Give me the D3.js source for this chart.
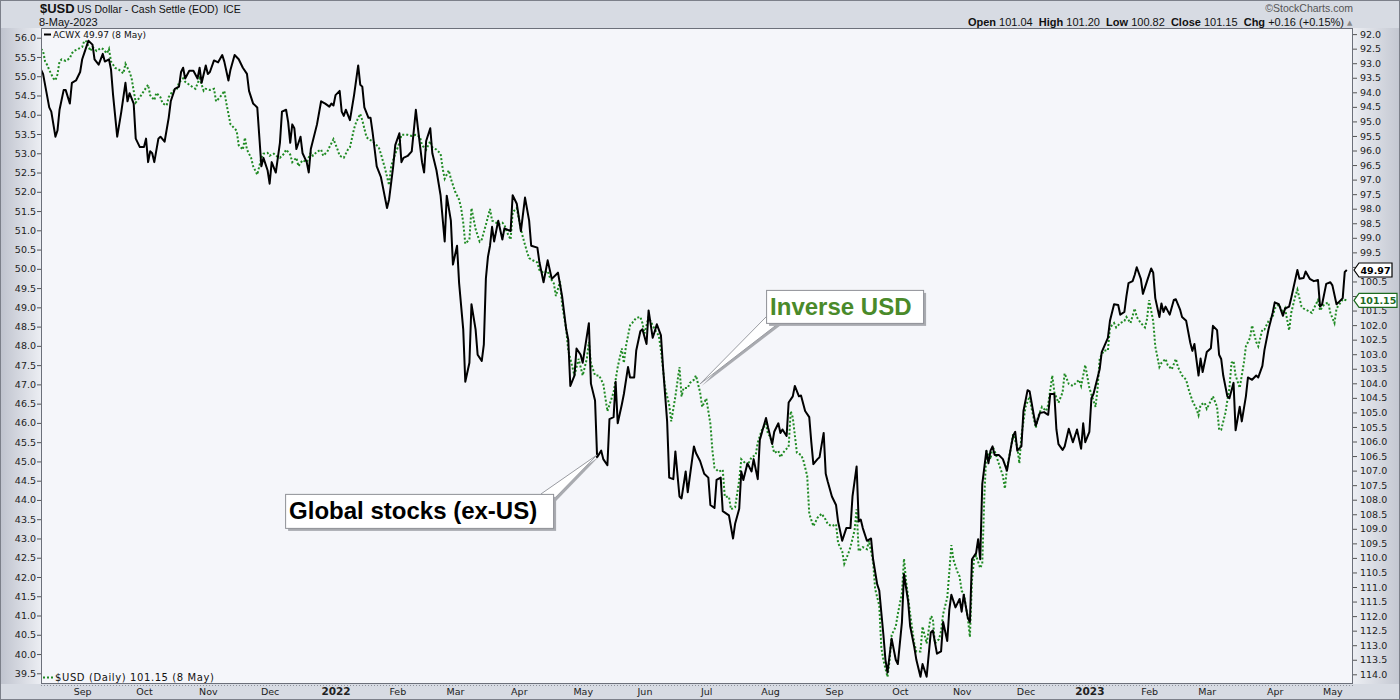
<!DOCTYPE html>
<html><head><meta charset="utf-8">
<script src="https://cdn.jsdelivr.net/npm/d3@7"></script>
<style>html,body{margin:0;padding:0;background:#fff;}svg{display:block;}</style>
</head><body>
<svg id="chart" width="1400" height="700"></svg>
<script>
// ---------------- DATA ----------------
const dateDomain = ["2021-08-12", "2023-05-11"];
const acwxSeries = [
["2021-08-12",55.17],["2021-08-13",55.06],["2021-08-16",54.19],["2021-08-17",54.08],["2021-08-19",53.43],["2021-08-20",53.59],["2021-08-21",54.13],["2021-08-23",54.64],["2021-08-24",54.64],["2021-08-26",54.29],["2021-08-27",54.83],["2021-08-29",54.89],["2021-08-31",55.11],
["2021-09-01",55.44],["2021-09-02",55.60],["2021-09-04",55.92],["2021-09-06",55.82],["2021-09-07",55.44],["2021-09-09",55.30],["2021-09-11",55.58],["2021-09-12",55.38],["2021-09-14",55.44],["2021-09-15",55.17],["2021-09-16",54.51],["2021-09-18",53.43],["2021-09-20",54.08],["2021-09-22",54.83],["2021-09-23",54.35],["2021-09-24",54.56],["2021-09-26",54.29],["2021-09-27",53.38],["2021-09-29",53.16],
["2021-10-01",53.16],["2021-10-02",53.38],["2021-10-03",52.77],["2021-10-04",53.05],["2021-10-05",53.00],["2021-10-06",52.77],["2021-10-08",53.38],["2021-10-09",53.43],["2021-10-11",53.30],["2021-10-13",53.92],["2021-10-14",54.35],["2021-10-16",54.67],["2021-10-18",54.73],["2021-10-19",55.11],["2021-10-20",55.22],["2021-10-21",54.94],["2021-10-23",55.14],["2021-10-25",55.14],["2021-10-27",54.94],["2021-10-28",55.22],["2021-10-29",54.83],["2021-10-31",55.28],
["2021-11-01",55.06],["2021-11-02",55.11],["2021-11-04",55.41],["2021-11-06",55.36],["2021-11-08",55.55],["2021-11-09",55.38],["2021-11-11",54.89],["2021-11-12",55.17],["2021-11-14",55.55],["2021-11-16",55.44],["2021-11-18",55.22],["2021-11-20",55.06],["2021-11-21",54.62],["2021-11-23",54.29],["2021-11-25",54.19],["2021-11-26",53.43],["2021-11-27",52.66],["2021-11-28",52.88],["2021-11-30",52.56],
["2021-12-01",52.21],["2021-12-02",52.77],["2021-12-04",52.50],["2021-12-06",53.27],["2021-12-07",54.08],["2021-12-09",54.13],["2021-12-10",53.81],["2021-12-11",53.27],["2021-12-12",53.75],["2021-12-13",53.65],["2021-12-14",53.11],["2021-12-16",53.43],["2021-12-17",53.00],["2021-12-19",52.77],["2021-12-20",52.50],["2021-12-21",53.11],["2021-12-24",53.75],["2021-12-26",54.35],["2021-12-28",54.29],["2021-12-30",54.21],["2021-12-31",54.29],
["2022-01-01",54.24],["2022-01-02",54.51],["2022-01-04",54.62],["2022-01-05",54.08],["2022-01-06",53.97],["2022-01-07",54.13],["2022-01-09",53.86],["2022-01-11",54.51],["2022-01-13",55.28],["2022-01-14",54.78],["2022-01-15",54.73],["2022-01-16",54.19],["2022-01-18",53.92],["2022-01-19",53.92],["2022-01-20",53.54],["2022-01-22",52.66],["2022-01-24",52.39],["2022-01-25",52.12],["2022-01-27",51.58],["2022-01-28",51.80],["2022-01-30",52.66],["2022-01-31",53.21],
["2022-02-02",53.52],["2022-02-03",52.77],["2022-02-04",52.88],["2022-02-06",52.93],["2022-02-08",53.05],["2022-02-10",54.13],["2022-02-11",53.65],["2022-02-13",52.77],["2022-02-14",52.50],["2022-02-15",53.32],["2022-02-17",53.65],["2022-02-18",53.00],["2022-02-20",52.56],["2022-02-22",51.91],["2022-02-24",50.71],["2022-02-25",51.90],["2022-02-27",51.25],["2022-02-28",50.11],
["2022-03-02",50.60],["2022-03-03",49.63],["2022-03-05",48.43],["2022-03-06",47.07],["2022-03-08",47.56],["2022-03-09",49.08],["2022-03-11",48.43],["2022-03-12",47.77],["2022-03-14",47.61],["2022-03-15",48.03],["2022-03-16",49.75],["2022-03-17",50.31],["2022-03-18",50.60],["2022-03-19",51.09],["2022-03-20",50.71],["2022-03-22",51.25],["2022-03-24",50.76],["2022-03-25",51.05],["2022-03-28",50.98],["2022-03-29",51.91],["2022-03-31",51.69],
["2022-04-02",50.98],["2022-04-04",51.85],["2022-04-06",51.25],["2022-04-07",50.60],["2022-04-10",50.55],["2022-04-11",50.17],["2022-04-13",49.65],["2022-04-15",50.22],["2022-04-17",49.74],["2022-04-20",49.90],["2022-04-22",49.29],["2022-04-24",48.43],["2022-04-25",48.16],["2022-04-26",46.96],["2022-04-28",47.23],["2022-04-29",47.93],
["2022-05-01",47.77],["2022-05-02",47.56],["2022-05-05",48.59],["2022-05-06",47.02],["2022-05-08",46.58],["2022-05-09",45.11],["2022-05-11",45.28],["2022-05-12",45.06],["2022-05-14",44.90],["2022-05-15",46.10],["2022-05-17",46.15],["2022-05-18",47.07],["2022-05-19",45.99],["2022-05-21",46.48],["2022-05-22",46.75],["2022-05-24",47.45],["2022-05-25",47.18],["2022-05-27",47.18],["2022-05-28",47.88],["2022-05-30",48.38],["2022-05-31",48.43],
["2022-06-02",48.05],["2022-06-03",48.92],["2022-06-05",48.21],["2022-06-06",48.38],["2022-06-07",48.56],["2022-06-09",48.27],["2022-06-10",47.45],["2022-06-12",46.04],["2022-06-13",44.58],["2022-06-15",44.54],["2022-06-16",45.26],["2022-06-18",44.09],["2022-06-19",44.04],["2022-06-21",44.74],["2022-06-22",44.20],["2022-06-25",45.39],["2022-06-26",45.22],["2022-06-28",45.01],["2022-06-30",44.68],
["2022-07-02",44.58],["2022-07-03",43.87],["2022-07-05",43.79],["2022-07-06",44.52],["2022-07-08",44.58],["2022-07-09",43.71],["2022-07-12",43.60],["2022-07-14",43.00],["2022-07-15",43.38],["2022-07-17",43.77],["2022-07-18",44.74],["2022-07-19",44.52],["2022-07-21",44.95],["2022-07-23",44.74],["2022-07-24",45.06],["2022-07-26",44.54],["2022-07-27",45.56],["2022-07-30",46.13],["2022-07-31",45.88],
["2022-08-02",45.45],["2022-08-03",45.77],["2022-08-05",45.99],["2022-08-06",45.74],["2022-08-07",45.83],["2022-08-09",45.66],["2022-08-10",46.53],["2022-08-12",46.69],["2022-08-13",46.96],["2022-08-15",46.69],["2022-08-16",46.71],["2022-08-18",46.31],["2022-08-20",46.15],["2022-08-21",45.50],["2022-08-22",44.93],["2022-08-24",45.06],["2022-08-25",45.11],["2022-08-27",45.74],["2022-08-28",44.68],["2022-08-29",44.47],["2022-08-31",44.09],
["2022-09-02",43.87],["2022-09-03",43.44],["2022-09-05",42.94],["2022-09-07",43.27],["2022-09-09",43.27],["2022-09-10",44.09],["2022-09-12",44.87],["2022-09-13",43.44],["2022-09-14",43.49],["2022-09-15",43.27],["2022-09-17",42.94],["2022-09-19",43.00],["2022-09-20",42.46],["2022-09-22",41.81],["2022-09-23",41.65],["2022-09-25",40.50],["2022-09-26",39.85],["2022-09-27",39.52],["2022-09-29",40.40],
["2022-10-01",39.85],["2022-10-02",39.74],["2022-10-04",40.83],["2022-10-05",42.08],["2022-10-07",41.37],["2022-10-08",40.72],["2022-10-10",40.18],["2022-10-11",39.85],["2022-10-13",39.41],["2022-10-14",39.74],["2022-10-16",39.41],["2022-10-18",40.56],["2022-10-19",40.61],["2022-10-21",40.01],["2022-10-23",40.07],["2022-10-24",40.83],["2022-10-26",40.34],["2022-10-27",41.15],["2022-10-28",41.54],["2022-10-30",41.21],
["2022-11-01",41.43],["2022-11-02",41.10],["2022-11-03",41.54],["2022-11-05",40.94],["2022-11-06",40.83],["2022-11-07",42.46],["2022-11-09",42.62],["2022-11-10",42.98],["2022-11-11",42.46],["2022-11-12",44.41],["2022-11-14",45.28],["2022-11-15",44.95],["2022-11-16",45.28],["2022-11-17",45.39],["2022-11-18",45.17],["2022-11-20",45.17],["2022-11-22",45.06],["2022-11-24",44.76],["2022-11-26",45.39],["2022-11-27",45.67],["2022-11-28",45.77],["2022-11-29",45.28],
["2022-12-01",45.39],["2022-12-02",46.31],["2022-12-04",46.85],["2022-12-05",46.82],["2022-12-07",46.21],["2022-12-08",45.93],["2022-12-10",46.26],["2022-12-12",46.28],["2022-12-14",46.21],["2022-12-15",46.75],["2022-12-17",46.75],["2022-12-18",45.83],["2022-12-19",45.45],["2022-12-21",45.30],["2022-12-22",45.39],["2022-12-24",45.85],["2022-12-26",45.50],["2022-12-27",45.66],["2022-12-28",45.83],["2022-12-30",45.33],["2022-12-31",45.99],
["2023-01-01",45.50],["2023-01-03",45.77],["2023-01-04",46.64],["2023-01-05",46.75],["2023-01-08",47.39],["2023-01-09",47.84],["2023-01-12",48.21],["2023-01-13",48.65],["2023-01-15",49.08],["2023-01-17",49.06],["2023-01-18",48.81],["2023-01-20",48.88],["2023-01-21",49.29],["2023-01-22",49.63],["2023-01-24",49.68],["2023-01-25",49.84],["2023-01-26",50.04],["2023-01-28",49.74],["2023-01-29",49.35],["2023-01-31",49.68],
["2023-02-02",50.01],["2023-02-03",49.90],["2023-02-04",49.24],["2023-02-06",48.75],["2023-02-07",49.10],["2023-02-08",48.88],["2023-02-09",49.02],["2023-02-11",48.81],["2023-02-13",49.19],["2023-02-14",49.21],["2023-02-16",48.95],["2023-02-17",48.75],["2023-02-19",48.65],["2023-02-21",48.08],["2023-02-22",47.87],["2023-02-23",48.05],["2023-02-25",47.23],["2023-02-26",47.67],["2023-02-27",47.32],
["2023-03-01",47.84],["2023-03-03",47.94],["2023-03-04",48.52],["2023-03-06",48.41],["2023-03-07",47.77],["2023-03-08",47.66],["2023-03-09",47.23],["2023-03-11",46.69],["2023-03-12",46.64],["2023-03-14",47.04],["2023-03-15",45.81],["2023-03-17",46.42],["2023-03-18",46.04],["2023-03-20",46.69],["2023-03-21",47.18],["2023-03-23",47.12],["2023-03-25",47.23],["2023-03-26",47.18],["2023-03-28",47.48],["2023-03-29",47.89],["2023-03-31",48.43],
["2023-04-02",48.86],["2023-04-03",49.13],["2023-04-05",49.08],["2023-04-07",48.78],["2023-04-08",48.97],["2023-04-10",49.02],["2023-04-11",49.24],["2023-04-14",49.97],["2023-04-15",49.74],["2023-04-17",49.76],["2023-04-18",49.93],["2023-04-20",49.74],["2023-04-22",49.68],["2023-04-24",49.71],["2023-04-25",49.02],["2023-04-26",49.08],["2023-04-28",49.61],["2023-04-30",49.65],
["2023-05-01",49.57],["2023-05-03",49.08],["2023-05-04",49.13],["2023-05-06",49.24],["2023-05-07",49.92],["2023-05-08",49.97]
];
const usdSeries = [
["2021-08-12",92.51],["2021-08-13",92.58],["2021-08-14",92.94],["2021-08-15",93.06],["2021-08-16",93.23],["2021-08-18",93.52],["2021-08-19",93.59],["2021-08-20",93.38],["2021-08-21",92.94],["2021-08-22",92.87],["2021-08-24",92.92],["2021-08-26",92.83],["2021-08-27",92.66],["2021-08-28",92.58],["2021-08-30",92.51],
["2021-09-01",92.44],["2021-09-02",92.23],["2021-09-03",92.25],["2021-09-05",92.58],["2021-09-06",92.44],["2021-09-08",92.58],["2021-09-10",92.48],["2021-09-11",92.51],["2021-09-13",92.66],["2021-09-14",92.51],["2021-09-15",92.94],["2021-09-17",93.16],["2021-09-19",93.23],["2021-09-21",93.35],["2021-09-22",93.02],["2021-09-24",93.30],["2021-09-25",93.52],["2021-09-26",93.95],["2021-09-27",94.35],["2021-09-29",94.17],
["2021-10-01",93.95],["2021-10-03",93.74],["2021-10-04",94.10],["2021-10-06",94.27],["2021-10-07",94.02],["2021-10-09",94.17],["2021-10-10",94.38],["2021-10-12",94.45],["2021-10-13",94.17],["2021-10-15",93.95],["2021-10-17",93.88],["2021-10-18",93.66],["2021-10-20",93.52],["2021-10-21",93.64],["2021-10-23",93.74],["2021-10-25",93.84],["2021-10-26",93.88],["2021-10-28",93.52],["2021-10-30",93.95],["2021-10-31",93.88],
["2021-11-02",93.92],["2021-11-04",93.88],["2021-11-05",94.31],["2021-11-06",94.24],["2021-11-08",94.07],["2021-11-09",93.95],["2021-11-10",94.38],["2021-11-12",95.10],["2021-11-13",95.17],["2021-11-15",95.32],["2021-11-16",95.82],["2021-11-18",95.97],["2021-11-19",95.56],["2021-11-20",95.97],["2021-11-22",96.25],["2021-11-23",96.54],["2021-11-25",96.83],["2021-11-27",96.25],["2021-11-28",96.11],["2021-11-30",96.08],
["2021-12-01",96.18],["2021-12-03",96.11],["2021-12-04",96.18],["2021-12-06",96.25],["2021-12-08",96.11],["2021-12-09",95.97],["2021-12-11",96.14],["2021-12-12",96.40],["2021-12-14",96.25],["2021-12-15",96.54],["2021-12-17",96.33],["2021-12-19",96.40],["2021-12-21",96.08],["2021-12-22",96.18],["2021-12-24",96.04],["2021-12-26",95.97],["2021-12-27",96.18],["2021-12-29",96.04],["2021-12-30",95.89],
["2022-01-01",95.61],["2022-01-03",95.97],["2022-01-04",96.18],["2022-01-06",96.25],["2022-01-08",95.97],["2022-01-09",95.89],["2022-01-11",95.25],["2022-01-12",95.03],["2022-01-14",94.74],["2022-01-15",94.96],["2022-01-17",95.53],["2022-01-18",95.61],["2022-01-20",95.68],["2022-01-21",95.75],["2022-01-23",95.89],["2022-01-24",96.11],["2022-01-26",96.61],["2022-01-28",97.19],["2022-01-29",96.54],["2022-01-31",96.11],
["2022-02-02",95.75],["2022-02-03",95.46],["2022-02-05",95.46],["2022-02-06",95.46],["2022-02-08",95.50],["2022-02-10",95.46],["2022-02-12",95.53],["2022-02-13",95.82],["2022-02-15",95.97],["2022-02-17",95.68],["2022-02-18",95.89],["2022-02-20",95.97],["2022-02-22",96.11],["2022-02-23",96.61],["2022-02-24",96.97],["2022-02-26",96.68],["2022-02-27",96.97],
["2022-03-01",97.40],["2022-03-03",97.69],["2022-03-04",97.98],["2022-03-05",98.48],["2022-03-06",99.20],["2022-03-08",99.06],["2022-03-09",97.98],["2022-03-11",98.70],["2022-03-13",99.13],["2022-03-14",99.06],["2022-03-16",98.55],["2022-03-18",98.01],["2022-03-19",98.41],["2022-03-21",98.48],["2022-03-22",98.55],["2022-03-24",98.48],["2022-03-25",98.55],["2022-03-26",98.77],["2022-03-28",99.06],["2022-03-29",98.12],["2022-03-31",97.98],
["2022-04-01",98.34],["2022-04-02",98.70],["2022-04-03",98.99],["2022-04-05",99.49],["2022-04-06",99.70],["2022-04-08",99.78],["2022-04-10",99.85],["2022-04-11",100.11],["2022-04-13",100.21],["2022-04-15",100.14],["2022-04-16",100.35],["2022-04-18",100.57],["2022-04-19",101.00],["2022-04-21",100.50],["2022-04-22",101.29],["2022-04-24",102.15],["2022-04-25",102.87],["2022-04-27",103.44],["2022-04-28",103.73],["2022-04-30",103.16],
["2022-05-01",103.44],["2022-05-02",103.73],["2022-05-04",103.16],["2022-05-05",102.58],["2022-05-06",103.30],["2022-05-08",103.73],["2022-05-10",103.73],["2022-05-11",103.88],["2022-05-12",104.02],["2022-05-14",104.96],["2022-05-15",104.74],["2022-05-17",104.31],["2022-05-18",103.88],["2022-05-19",103.44],["2022-05-21",102.80],["2022-05-22",103.30],["2022-05-23",102.73],["2022-05-25",102.01],["2022-05-26",101.93],["2022-05-28",101.75],["2022-05-30",101.72],["2022-05-31",101.93],
["2022-06-01",102.29],["2022-06-03",101.72],["2022-06-05",102.01],["2022-06-06",102.15],["2022-06-08",102.37],["2022-06-09",102.87],["2022-06-11",104.16],["2022-06-13",104.74],["2022-06-14",105.31],["2022-06-16",104.45],["2022-06-18",103.44],["2022-06-19",104.45],["2022-06-20",104.16],["2022-06-22",104.16],["2022-06-23",103.99],["2022-06-25",103.88],["2022-06-26",103.73],["2022-06-28",104.31],["2022-06-29",104.81],
["2022-07-01",104.52],["2022-07-03",105.39],["2022-07-04",106.32],["2022-07-05",106.90],["2022-07-07",107.04],["2022-07-09",106.97],["2022-07-10",107.90],["2022-07-12",107.90],["2022-07-13",108.33],["2022-07-15",108.26],["2022-07-17",107.33],["2022-07-18",106.61],["2022-07-20",106.75],["2022-07-21",106.82],["2022-07-23",106.54],["2022-07-25",106.46],["2022-07-26",106.03],["2022-07-28",105.60],["2022-07-30",105.39],["2022-07-31",105.75],
["2022-08-01",105.82],["2022-08-03",106.39],["2022-08-05",106.32],["2022-08-06",106.54],["2022-08-08",106.32],["2022-08-10",106.18],["2022-08-11",104.96],["2022-08-12",105.17],["2022-08-14",106.39],["2022-08-16",106.46],["2022-08-17",106.61],["2022-08-19",107.18],["2022-08-20",108.48],["2022-08-22",108.91],["2022-08-23",108.77],["2022-08-24",108.62],["2022-08-26",108.48],["2022-08-28",108.69],["2022-08-29",108.84],["2022-08-31",108.91],
["2022-09-02",108.84],["2022-09-03",109.49],["2022-09-05",109.77],["2022-09-06",110.20],["2022-09-08",109.84],["2022-09-09",109.63],["2022-09-11",109.05],["2022-09-12",108.33],["2022-09-13",109.77],["2022-09-15",109.63],["2022-09-17",109.70],["2022-09-18",109.41],["2022-09-20",110.13],["2022-09-21",111.07],["2022-09-23",111.64],["2022-09-24",113.08],["2022-09-25",113.51],["2022-09-27",114.09],["2022-09-28",113.51],["2022-09-29",112.65],
["2022-10-01",112.36],["2022-10-02",111.93],["2022-10-04",111.21],["2022-10-05",110.03],["2022-10-06",110.78],["2022-10-08",111.93],["2022-10-10",112.94],["2022-10-11",113.22],["2022-10-13",113.22],["2022-10-14",112.36],["2022-10-16",112.94],["2022-10-18",112.00],["2022-10-19",112.07],["2022-10-20",112.94],["2022-10-22",112.79],["2022-10-23",112.51],["2022-10-24",111.93],["2022-10-26",111.36],["2022-10-27",110.49],["2022-10-28",109.56],["2022-10-29",110.06],["2022-10-31",110.49],
["2022-11-01",110.64],["2022-11-02",111.14],["2022-11-03",111.21],["2022-11-05",112.07],["2022-11-06",112.72],["2022-11-07",110.78],["2022-11-08",110.06],["2022-11-09",109.92],["2022-11-11",110.35],["2022-11-12",110.20],["2022-11-13",107.90],["2022-11-14",106.32],["2022-11-16",106.61],["2022-11-17",106.18],["2022-11-18",106.32],["2022-11-20",106.75],["2022-11-22",107.18],["2022-11-23",107.62],["2022-11-24",106.90],["2022-11-26",106.18],["2022-11-27",105.75],["2022-11-29",106.18],["2022-11-30",106.75],
["2022-12-01",105.82],["2022-12-03",104.81],["2022-12-05",104.45],["2022-12-06",104.88],["2022-12-08",105.53],["2022-12-09",105.17],["2022-12-11",104.81],["2022-12-13",104.95],["2022-12-14",104.74],["2022-12-16",103.73],["2022-12-17",104.31],["2022-12-19",104.67],["2022-12-21",104.31],["2022-12-22",103.66],["2022-12-24",104.02],["2022-12-26",104.09],["2022-12-27",104.02],["2022-12-29",103.88],["2022-12-30",104.09],
["2023-01-01",103.37],["2023-01-03",104.16],["2023-01-04",104.38],["2023-01-06",104.81],["2023-01-07",104.16],["2023-01-08",103.16],["2023-01-10",102.87],["2023-01-12",102.87],["2023-01-13",102.08],["2023-01-15",101.93],["2023-01-16",102.08],["2023-01-18",101.93],["2023-01-20",101.86],["2023-01-21",101.72],["2023-01-23",101.93],["2023-01-25",101.43],["2023-01-26",101.72],["2023-01-28",101.93],["2023-01-30",102.08],["2023-01-31",101.79],
["2023-02-01",101.14],["2023-02-03",101.86],["2023-02-04",102.73],["2023-02-06",103.44],["2023-02-07",103.30],["2023-02-09",103.16],["2023-02-10",103.37],["2023-02-12",103.52],["2023-02-14",103.16],["2023-02-15",103.44],["2023-02-17",103.73],["2023-02-19",103.88],["2023-02-20",104.16],["2023-02-22",104.60],["2023-02-24",104.88],["2023-02-25",105.10],["2023-02-26",104.74],["2023-02-28",104.67],
["2023-03-01",104.88],["2023-03-03",104.60],["2023-03-04",104.45],["2023-03-06",104.81],["2023-03-07",105.60],["2023-03-08",105.60],["2023-03-10",105.03],["2023-03-12",104.16],["2023-03-13",103.30],["2023-03-14",103.23],["2023-03-15",103.73],["2023-03-17",104.16],["2023-03-19",103.30],["2023-03-20",102.73],["2023-03-22",102.44],["2023-03-23",102.01],["2023-03-25",102.58],["2023-03-26",102.73],["2023-03-28",102.15],["2023-03-29",102.15],["2023-03-31",101.86],
["2023-04-02",101.72],["2023-04-03",101.43],["2023-04-05",101.29],["2023-04-07",101.58],["2023-04-08",101.43],["2023-04-10",102.18],["2023-04-11",101.58],["2023-04-13",101.00],["2023-04-14",100.78],["2023-04-16",101.36],["2023-04-17",101.43],["2023-04-19",101.50],["2023-04-21",101.58],["2023-04-22",101.43],["2023-04-24",101.14],["2023-04-25",101.50],["2023-04-27",101.29],["2023-04-29",101.22],["2023-04-30",101.58],
["2023-05-02",101.93],["2023-05-03",101.43],["2023-05-05",101.22],["2023-05-06",101.11],["2023-05-08",101.15]
];
const monthTickDates = ["2021-09-01","2021-10-01","2021-11-01","2021-12-01","2022-01-02","2022-02-01","2022-03-01","2022-04-01","2022-05-02","2022-06-01","2022-07-01","2022-08-01","2022-09-01","2022-10-03","2022-11-02","2022-12-03","2023-01-03","2023-02-01","2023-03-01","2023-04-03","2023-05-01"];
const monthTickLabels = ["Sep","Oct","Nov","Dec","2022","Feb","Mar","Apr","May","Jun","Jul","Aug","Sep","Oct","Nov","Dec","2023","Feb","Mar","Apr","May"];
const leftTicks = [56.0,55.5,55.0,54.5,54.0,53.5,53.0,52.5,52.0,51.5,51.0,50.5,50.0,49.5,49.0,48.5,48.0,47.5,47.0,46.5,46.0,45.5,45.0,44.5,44.0,43.5,43.0,42.5,42.0,41.5,41.0,40.5,40.0,39.5];
const rightTicks = [92.0,92.5,93.0,93.5,94.0,94.5,95.0,95.5,96.0,96.5,97.0,97.5,98.0,98.5,99.0,99.5,100.0,100.5,101.0,101.5,102.0,102.5,103.0,103.5,104.0,104.5,105.0,105.5,106.0,106.5,107.0,107.5,108.0,108.5,109.0,109.5,110.0,110.5,111.0,111.5,112.0,112.5,113.0,113.5,114.0];
const ohlcLabels = ["Open","High","Low","Close","Chg"];
const ohlcValues = ["101.04","101.20","100.82","101.15","+0.16 (+0.15%)"];
const annotations = [
  {text:"Inverse USD", date:"2022-06-28", value:104.02, axis:"right", color:"#4a8a2a", dx:66, dy:-94, w:157, h:33, base:"bl"},
  {text:"Global stocks (ex-US)", date:"2022-05-09", value:45.17, axis:"left", color:"#000000", dx:-312, dy:39, w:268, h:34, base:"tr"}
];

// ---------------- CHART ----------------
const parse = d3.timeParse("%Y-%m-%d");
const svg = d3.select("#chart");
const P = {l:41, r:1353, t:28, b:684};
const x = d3.scaleTime().domain(dateDomain.map(parse)).range([P.l, P.r]);
const yL = d3.scaleLinear().domain([56.252, 39.222]).range([P.t, P.b]);
const yR = d3.scaleLinear().domain([91.790, 114.333]).range([P.t, P.b]);
const AX = "DejaVu Sans, Verdana, sans-serif";
const AR = "Liberation Sans, Arial, sans-serif";

const defs = svg.append("defs");
const gl = defs.append("linearGradient").attr("id","gLeft").attr("x1","0").attr("x2","1");
gl.append("stop").attr("offset","0").attr("stop-color","#bfc3ce");
gl.append("stop").attr("offset","1").attr("stop-color","#eceef3");
const gr = defs.append("linearGradient").attr("id","gRight").attr("x1","0").attr("x2","1");
gr.append("stop").attr("offset","0").attr("stop-color","#eceef3");
gr.append("stop").attr("offset","1").attr("stop-color","#c3c7d1");
defs.append("clipPath").attr("id","clip").append("rect").attr("x",P.l).attr("y",P.t).attr("width",P.r-P.l).attr("height",P.b-P.t);

svg.append("rect").attr("width",1400).attr("height",700).attr("fill","#d7dbe3");
svg.append("rect").attr("x",0).attr("y",P.t).attr("width",P.l).attr("height",P.b-P.t).attr("fill","url(#gLeft)");
svg.append("rect").attr("x",P.r).attr("y",P.t).attr("width",1400-P.r).attr("height",P.b-P.t).attr("fill","url(#gRight)");
svg.append("rect").attr("x",0.5).attr("y",0.5).attr("width",1399).attr("height",699).attr("fill","none").attr("stroke","#7c808a");
svg.append("rect").attr("x",P.l).attr("y",P.t).attr("width",P.r-P.l).attr("height",P.b-P.t).attr("fill","#f5f6fa");

// header
const hdr = svg.append("g");
hdr.append("text").attr("x",40).attr("y",13).attr("font-family",AR).attr("font-weight","bold").attr("font-size",13).attr("fill","#111").text("$USD");
const title = hdr.append("text").attr("x",77).attr("y",13).attr("font-family",AR).attr("font-size",10.5).attr("fill","#111");
title.append("tspan").text("US Dollar - Cash Settle (EOD)");
title.append("tspan").attr("dx",5).text("ICE");
hdr.append("text").attr("x",39).attr("y",26).attr("font-family",AR).attr("font-size",11).attr("fill","#111").text("8-May-2023");
hdr.append("text").attr("x",1353).attr("y",12).attr("text-anchor","end").attr("font-family",AR).attr("font-size",10.5).attr("fill","#555").text("\u00A9StockCharts.com");
const ohlc = hdr.append("text").attr("x",1344).attr("y",26).attr("text-anchor","end").attr("font-family",AR).attr("font-size",11).attr("fill","#111");
ohlcLabels.forEach((lab,i)=>{
  ohlc.append("tspan").attr("font-weight","bold").text((i?"  ":"")+lab+" ");
  ohlc.append("tspan").text(ohlcValues[i]);
});
ohlc.attr("xml:space","preserve").style("white-space","pre");
hdr.append("text").attr("x",1347).attr("y",25).attr("font-family",AX).attr("font-size",7).attr("fill","#888").text("\u25B2");

// value tag positions (used to keep covered tick labels out)
const lastA = acwxSeries[acwxSeries.length-1], lastU = usdSeries[usdSeries.length-1];
const tagYs = [yL(lastA[1]), yR(lastU[1])];

// axes
const gLeft = svg.append("g").attr("transform",`translate(${P.l},0)`)
  .call(d3.axisLeft(yL).tickValues(leftTicks).tickFormat(d3.format(".1f")).tickSize(4).tickPadding(1));
gLeft.select(".domain").remove();
gLeft.attr("font-family",AX).attr("font-size",9.5);
gLeft.selectAll("line").attr("stroke","#555");
gLeft.selectAll("text").attr("fill","#222");

const gRightAx = svg.append("g").attr("transform",`translate(${P.r},0)`)
  .call(d3.axisRight(yR).tickValues(rightTicks).tickFormat(d3.format(".1f")).tickSize(4).tickPadding(3));
gRightAx.select(".domain").remove();
gRightAx.attr("font-family",AX).attr("font-size",9.5);
gRightAx.selectAll("line").attr("stroke","#555");
gRightAx.selectAll("text").attr("fill","#222");
gRightAx.selectAll(".tick").filter(d=>tagYs.some(t=>Math.abs(yR(d)-t)<9)).select("text").remove();

const gBot = svg.append("g").attr("transform",`translate(0,${P.b})`)
  .call(d3.axisBottom(x).tickValues(monthTickDates.map(parse)).tickFormat((d,i)=>monthTickLabels[i]).tickSize(0).tickPadding(4));
gBot.select(".domain").remove();
gBot.attr("font-family",AX).attr("font-size",9.5);
gBot.selectAll("text").attr("fill","#222").attr("font-weight",(d,i)=>/^\d{4}$/.test(monthTickLabels[i])?"bold":"normal")
  .attr("font-size",(d,i)=>/^\d{4}$/.test(monthTickLabels[i])?10.5:9.5);
svg.append("line").attr("x1",P.l).attr("x2",P.r).attr("y1",P.b+1.5).attr("y2",P.b+1.5)
  .attr("stroke","#8d919b").attr("stroke-width",1).attr("stroke-dasharray","1,2");

// lines
const plotG = svg.append("g").attr("clip-path","url(#clip)");
const lineL = d3.line().x(d=>x(parse(d[0]))).y(d=>yL(d[1]));
const lineR = d3.line().x(d=>x(parse(d[0]))).y(d=>yR(d[1]));
plotG.append("path").datum(usdSeries).attr("d",lineR).attr("fill","none")
  .attr("stroke","#1f8a23").attr("stroke-width",2).attr("stroke-dasharray","2,2");
plotG.append("path").datum(acwxSeries).attr("d",lineL).attr("fill","none")
  .attr("stroke","#000").attr("stroke-width",2).attr("stroke-linejoin","round");

// plot border
svg.append("rect").attr("x",P.l+0.5).attr("y",P.t+0.5).attr("width",P.r-P.l-1).attr("height",P.b-P.t-1)
  .attr("fill","none").attr("stroke","#6c707a");

// legends
svg.append("line").attr("x1",44).attr("x2",51).attr("y1",34.5).attr("y2",34.5).attr("stroke","#000").attr("stroke-width",2);
svg.append("text").attr("x",53).attr("y",38).attr("font-family",AX).attr("font-size",9).attr("fill","#111")
  .text(`ACWX ${lastA[1].toFixed(2)} (8 May)`);
svg.append("line").attr("x1",43).attr("x2",53).attr("y1",677.5).attr("y2",677.5).attr("stroke","#1f8a23").attr("stroke-width",2).attr("stroke-dasharray","2,2");
svg.append("text").attr("x",55).attr("y",681).attr("font-family",AX).attr("font-size",10).attr("letter-spacing",0.6).attr("fill","#111")
  .text(`$USD (Daily) ${lastU[1].toFixed(2)} (8 May)`);

// value tags on right axis
function valueTag(yv, txt, color, w){
  const g = svg.append("g");
  const x0 = P.r + 1, h = 14;
  g.append("path").attr("d",`M${x0},${yv} L${x0+5},${yv-h/2} L${x0+5+w},${yv-h/2} L${x0+5+w},${yv+h/2} L${x0+5},${yv+h/2} Z`)
    .attr("fill","#fff").attr("stroke",color).attr("stroke-width",1.2);
  g.append("text").attr("x",x0+5+w/2).attr("y",yv+3.6).attr("text-anchor","middle")
    .attr("font-family",AX).attr("font-weight","bold").attr("font-size",9.5).attr("fill",color).text(txt);
}
valueTag(tagYs[0], lastA[1].toFixed(2), "#000", 33);
valueTag(tagYs[1], lastU[1].toFixed(2), "#1d6b1f", 38);

// annotations
annotations.forEach(a=>{
  const tx = x(parse(a.date)), ty = (a.axis==="left"?yL:yR)(a.value);
  const bx = tx + a.dx, by = ty + a.dy;
  let b1, b2;
  if (a.base==="bl") { b1=[bx+1, by+a.h-7]; b2=[bx+13, by+a.h]; }
  else { b1=[bx+a.w-12, by]; b2=[bx+a.w-1, by+7]; }
  const g = svg.append("g");
  g.append("path").attr("d",`M${b1[0]+2},${b1[1]+2} L${tx+1.5},${ty+2} L${b2[0]+2},${b2[1]+2} Z`).attr("fill","#a9abb0");
  g.append("path").attr("d",`M${b1[0]},${b1[1]} L${tx},${ty} L${b2[0]},${b2[1]} Z`).attr("fill","#fff").attr("stroke","#9a9ca2").attr("stroke-width",1);
  g.append("rect").attr("x",bx+3).attr("y",by+3).attr("width",a.w).attr("height",a.h).attr("fill","#a9abb0");
  g.append("rect").attr("x",bx+0.5).attr("y",by+0.5).attr("width",a.w).attr("height",a.h).attr("fill","#fff").attr("stroke","#8e9096");
  g.append("text").attr("x",bx+4).attr("y",by+a.h/2+8.5)
    .attr("font-family",AR).attr("font-weight","bold").attr("font-size",24).attr("fill",a.color).text(a.text);
});
</script>
</body></html>
